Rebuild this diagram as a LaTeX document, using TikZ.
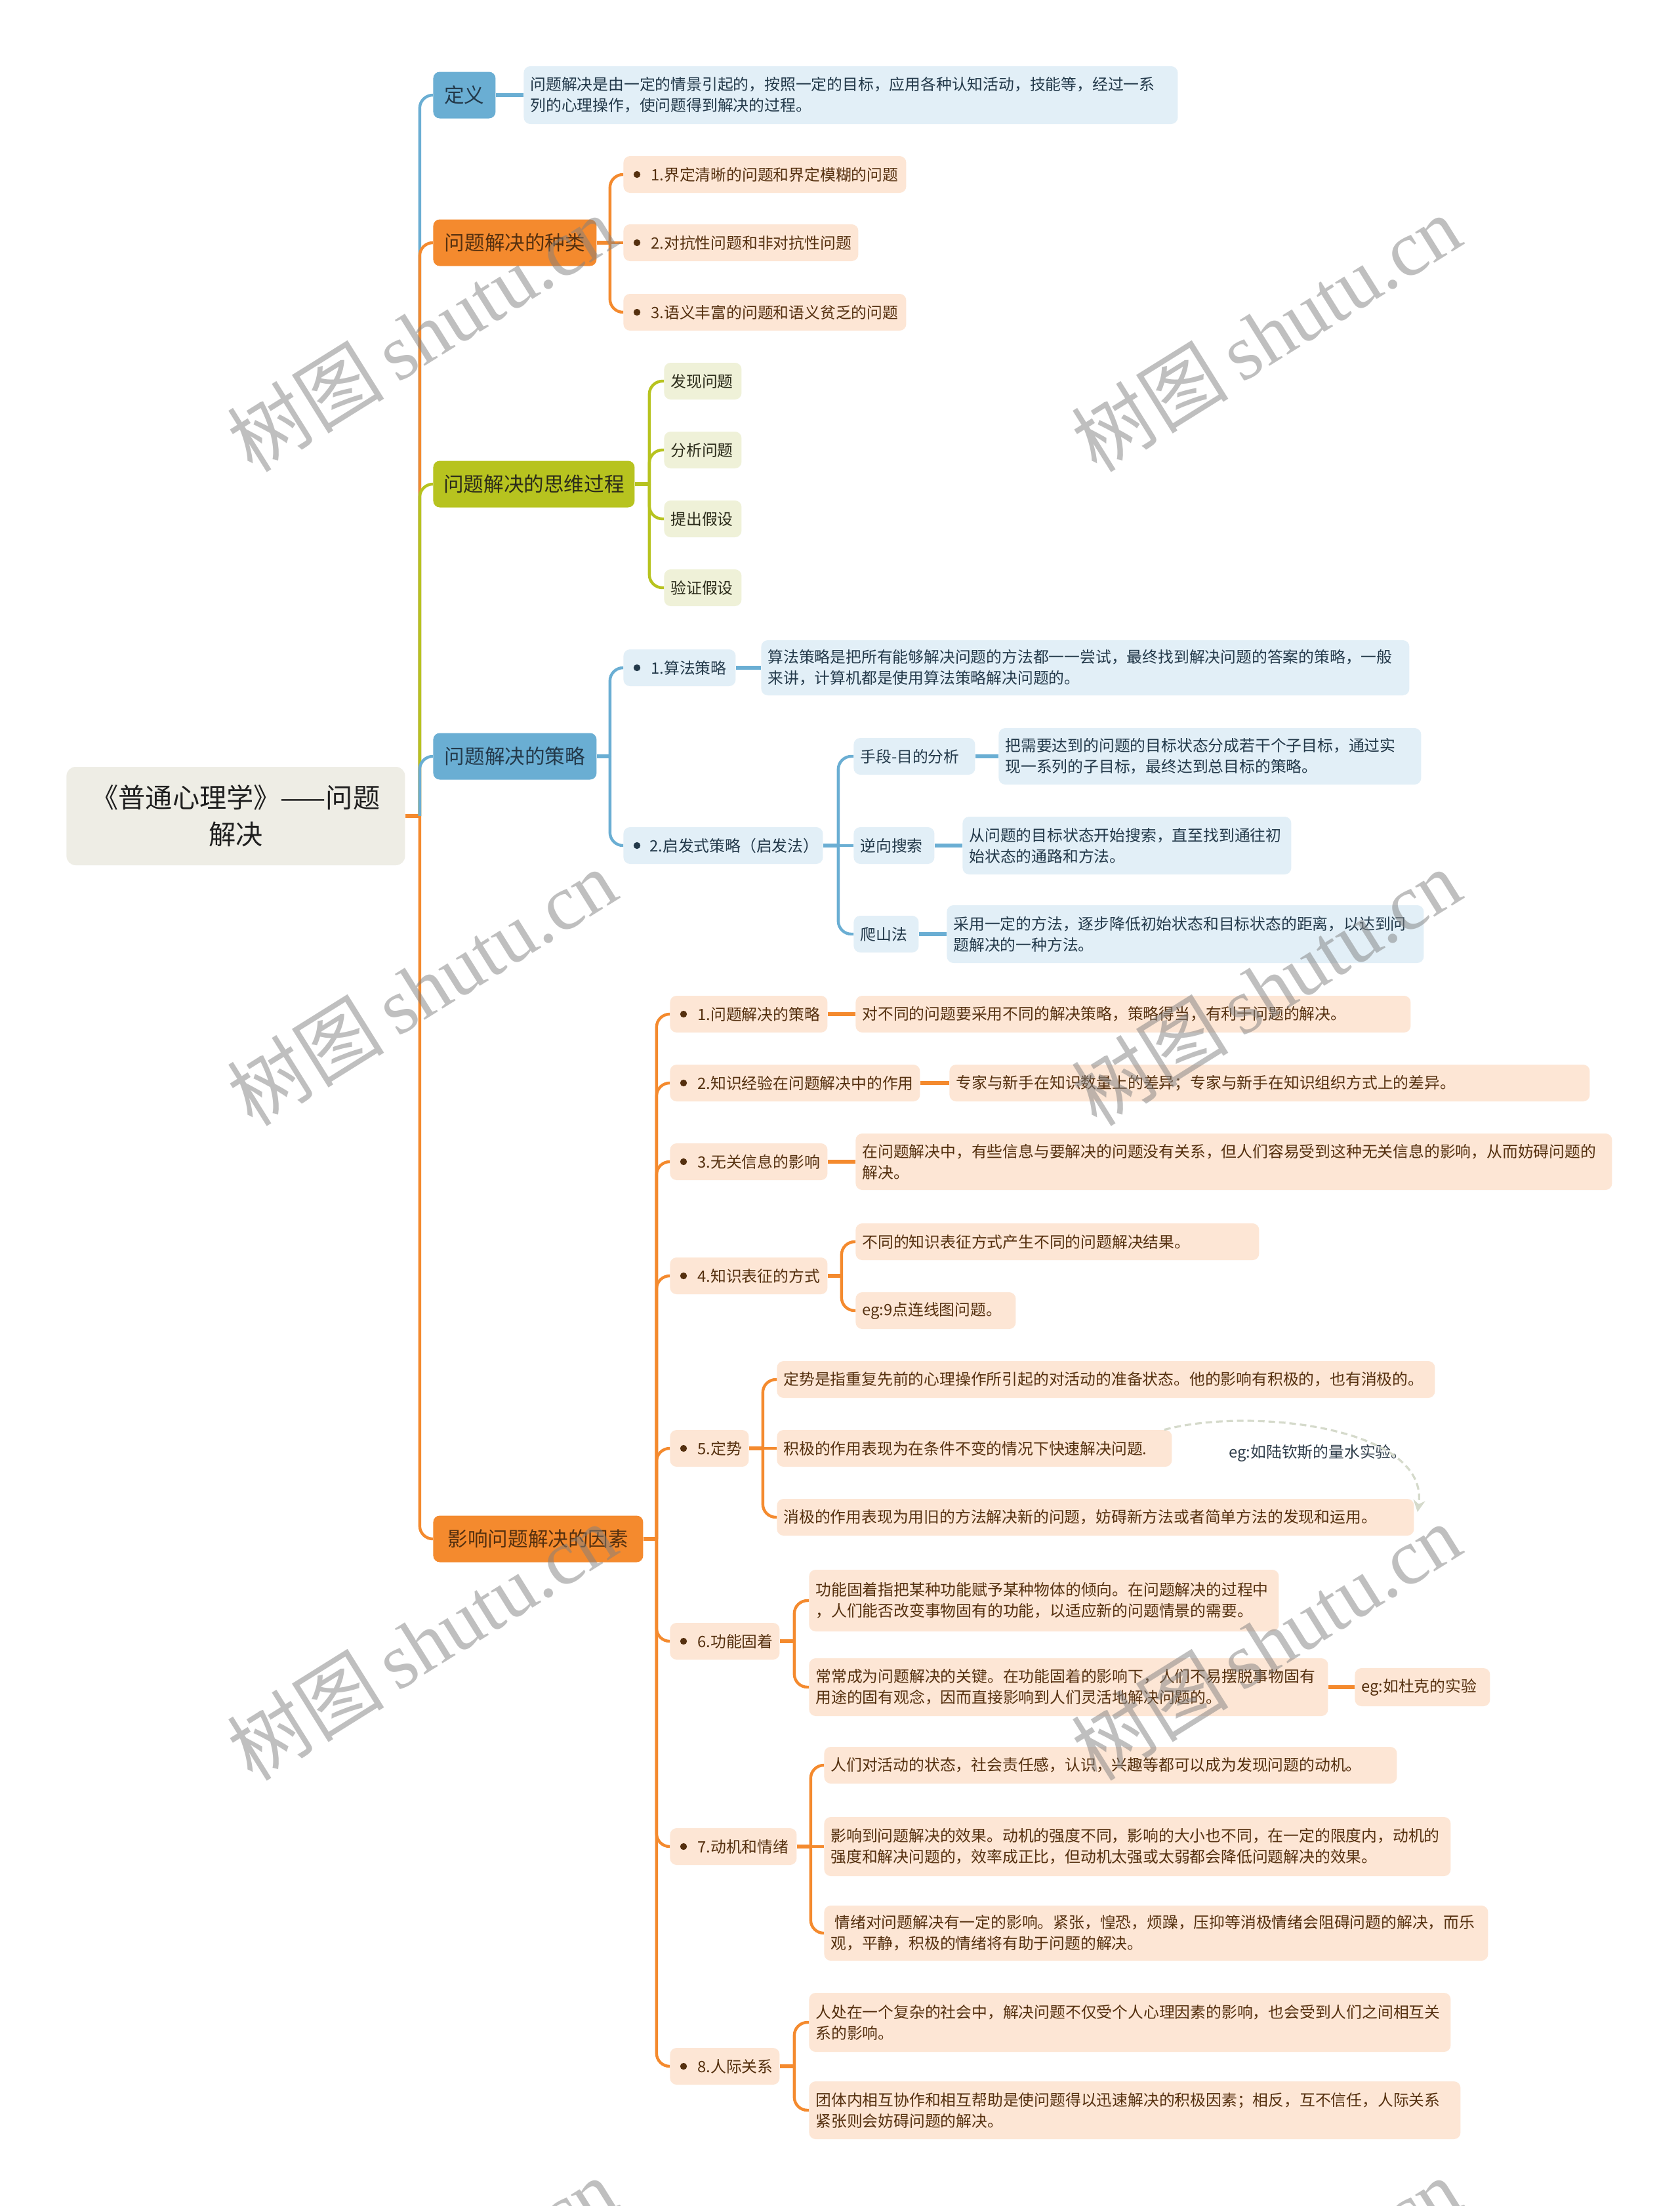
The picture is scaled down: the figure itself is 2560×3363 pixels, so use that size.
\documentclass[tikz,border=0pt]{standalone}
\usepackage{fontspec}
\setmainfont{Noto Sans CJK SC}
\newfontfamily\wmlat{Liberation Serif}
\usetikzlibrary{calc,arrows.meta}

\definecolor{cB}{HTML}{6AAED3}
\definecolor{cBl}{HTML}{E2EFF7}
\definecolor{cBt}{HTML}{23394A}
\definecolor{cO}{HTML}{F48A2E}
\definecolor{cOl}{HTML}{FDE6D5}
\definecolor{cOt}{HTML}{55300F}
\definecolor{cG}{HTML}{B7C31F}
\definecolor{cGl}{HTML}{EFF1D8}
\definecolor{cGt}{HTML}{2B2B1A}
\definecolor{cR}{HTML}{EEEDE5}
\definecolor{cRel}{HTML}{D5DACB}
\definecolor{cLab}{HTML}{2F3D4A}

\newcommand\fsS{\fontsize{11.9pt}{16pt}\selectfont}
\newcommand\fsM{\fontsize{15.3pt}{19pt}\selectfont}
\newcommand\fsR{\fontsize{20.6pt}{28pt}\selectfont}

\tikzset{
  bx/.style={anchor=west, rounded corners=5pt, inner xsep=5pt, inner ysep=2pt,
             align=left, font=\fsS, minimum height=28pt},
  tw/.code={\pgfmathsetmacro\twv{#1*0.5-10}\edef\twtmp{\noexpand\tikzset{text width=\twv pt}}\twtmp},
  ht/.style={minimum height={#1*0.5pt}},
  lb/.style={bx, fill=cBl, text=cBt},
  lo/.style={bx, fill=cOl, text=cOt},
  lg/.style={bx, fill=cGl, text=cGt},
  mainnode/.style={anchor=west, rounded corners=5pt, font=\fsM, minimum height=35.5pt,
                   align=center, inner xsep=2pt},
  mb/.style={mainnode, fill=cB, text=cBt},
  mo/.style={mainnode, fill=cO, text=cOt},
  mg/.style={mainnode, fill=cG, text=cGt},
  rootnode/.style={anchor=west, rounded corners=7pt, font=\fsR, fill=cR, text=black!88,
                   align=center},
  lnB/.style={draw=cB, line width=2.2pt},
  lnO/.style={draw=cO, line width=2.2pt},
  lnG/.style={draw=cG, line width=2.2pt},
  stub/.style={line width=3pt},
  rc/.style={rounded corners=10pt},
  rel/.style={draw=cRel, line width=1.6pt, dash pattern=on 5pt off 3pt,
              -{Stealth[length=9pt,width=9pt]}},
  wm/.style={rotate=32, text=black!50, text opacity=0.5, font=\fontsize{60pt}{60pt}\selectfont}
}

% fork: style, parent, dx, curved children
\newcommand\fork[4]{%
  \draw[#1, stub] (#2.east) -- ++(#3,0) coordinate (#2-j);
  \foreach \c in {#4}{\draw[#1, rc] (#2-j) |- (\c.west);}%
}
\newcommand\forkS[3]{\draw[#1] (#2-j) -- (#3.west);}
\newcommand\lnk[3]{\draw[#1, stub] (#2.east) -- (#3.west);}

\begin{document}
\begin{tikzpicture}[x=0.5pt,y=-0.5pt]
\fill[white] (0,0) rectangle (2560,3363);
\useasboundingbox (0,0) rectangle (2560,3363);

% ---------- root and main topics ----------
\node[rootnode, minimum width=258pt, minimum height=75pt] (root) at (101,1244) {《普通心理学》——问题\\解决};

\node[mb, minimum width=47.5pt]  (def)   at (660,145)  {定义};
\node[mo, minimum width=124.5pt] (kind)  at (660,370)  {问题解决的种类};
\node[mg, minimum width=153.5pt] (think) at (660,738)  {问题解决的思维过程};
\node[mb, minimum width=124.5pt] (strat) at (660,1153) {问题解决的策略};
\node[mo, minimum width=160pt]   (infl)  at (660,2346) {影响问题解决的因素};

% ---------- 定义 ----------
\node[lb, tw=997, ht=88] (defd) at (798,145) {问题解决是由一定的情景引起的，按照一定的目标，应用各种认知活动，技能等，经过一系\\列的心理操作，使问题得到解决的过程。};

% ---------- 种类 ----------
\node[lo, tw=431] (k1) at (950,266) {\hspace*{16pt}1.界定清晰的问题和界定模糊的问题};
\node[lo, tw=358] (k2) at (950,370) {\hspace*{16pt}2.对抗性问题和非对抗性问题};
\node[lo, tw=431] (k3) at (950,476) {\hspace*{16pt}3.语义丰富的问题和语义贫乏的问题};

% ---------- 思维过程 ----------
\node[lg, tw=118] (t1) at (1012,581) {发现问题};
\node[lg, tw=118] (t2) at (1012,686) {分析问题};
\node[lg, tw=118] (t3) at (1012,791) {提出假设};
\node[lg, tw=118] (t4) at (1012,896) {验证假设};

% ---------- 策略 ----------
\node[lb, tw=171] (s1) at (950,1018) {\hspace*{16pt}1.算法策略};
\node[lb, tw=988, ht=84] (s1d) at (1160,1018) {算法策略是把所有能够解决问题的方法都一一尝试，最终找到解决问题的答案的策略，一般\\来讲，计算机都是使用算法策略解决问题的。};
\node[lb, tw=304] (s2) at (950,1289) {\hspace*{15pt}2.启发式策略（启发法）};
\node[lb, tw=185] (s2a) at (1301,1153) {手段-目的分析};
\node[lb, tw=644, ht=86] (s2ad) at (1522,1153) {把需要达到的问题的目标状态分成若干个子目标，通过实\\现一系列的子目标，最终达到总目标的策略。};
\node[lb, tw=123] (s2b) at (1301,1289) {逆向搜索};
\node[lb, tw=501, ht=88] (s2bd) at (1467,1289) {从问题的目标状态开始搜索，直至找到通往初\\始状态的通路和方法。};
\node[lb, tw=99] (s2c) at (1301,1424) {爬山法};
\node[lb, tw=727, ht=88] (s2cd) at (1443,1424) {采用一定的方法，逐步降低初始状态和目标状态的距离，以达到问\\题解决的一种方法。};

% ---------- 影响因素 ----------
\node[lo, tw=240] (f1) at (1021,1546) {\hspace*{16pt}1.问题解决的策略};
\node[lo, tw=846] (f1d) at (1304,1546) {对不同的问题要采用不同的解决策略，策略得当，有利于问题的解决。};
\node[lo, tw=381] (f2) at (1021,1651) {\hspace*{16pt}2.知识经验在问题解决中的作用};
\node[lo, tw=976] (f2d) at (1447,1651) {专家与新手在知识数量上的差异；专家与新手在知识组织方式上的差异。};
\node[lo, tw=240] (f3) at (1021,1771) {\hspace*{16pt}3.无关信息的影响};
\node[lo, tw=1153, ht=86] (f3d) at (1304,1771) {在问题解决中，有些信息与要解决的问题没有关系，但人们容易受到这种无关信息的影响，从而妨碍问题的\\解决。};
\node[lo, tw=240] (f4) at (1021,1945) {\hspace*{16pt}4.知识表征的方式};
\node[lo, tw=615] (f4a) at (1304,1893) {不同的知识表征方式产生不同的问题解决结果。};
\node[lo, tw=244] (f4b) at (1304,1998) {eg:9点连线图问题。};
\node[lo, tw=120] (f5) at (1021,2208) {\hspace*{16pt}5.定势};
\node[lo, tw=1003] (f5a) at (1184,2103) {定势是指重复先前的心理操作所引起的对活动的准备状态。他的影响有积极的，也有消极的。};
\node[lo, tw=602] (f5b) at (1184,2208) {积极的作用表现为在条件不变的情况下快速解决问题.};
\node[lo, tw=971] (f5c) at (1184,2313) {消极的作用表现为用旧的方法解决新的问题，妨碍新方法或者简单方法的发现和运用。};
\node[font=\fsS, text=cLab] (f5lab) at (2009,2215) {eg:如陆钦斯的量水实验。};
\node[lo, tw=167] (f6) at (1021,2502) {\hspace*{16pt}6.功能固着};
\node[lo, tw=716, ht=94] (f6a) at (1233,2440) {功能固着指把某种功能赋予某种物体的倾向。在问题解决的过程中\\，人们能否改变事物固有的功能，以适应新的问题情景的需要。};
\node[lo, tw=791, ht=88] (f6b) at (1233,2572) {常常成为问题解决的关键。在功能固着的影响下，人们不易摆脱事物固有\\用途的固有观念，因而直接影响到人们灵活地解决问题的。};
\node[lo, tw=206, ht=58] (f6e) at (2065,2572) {eg:如杜克的实验};
\node[lo, tw=193] (f7) at (1021,2815) {\hspace*{16pt}7.动机和情绪};
\node[lo, tw=873] (f7a) at (1256,2691) {人们对活动的状态，社会责任感，认识，兴趣等都可以成为发现问题的动机。};
\node[lo, tw=955, ht=90] (f7b) at (1256,2815) {影响到问题解决的效果。动机的强度不同，影响的大小也不同，在一定的限度内，动机的\\强度和解决问题的，效率成正比，但动机太强或太弱都会降低问题解决的效果。};
\node[lo, tw=1012, ht=84] (f7c) at (1256,2947) {\hspace*{3pt}情绪对问题解决有一定的影响。紧张，惶恐，烦躁，压抑等消极情绪会阻碍问题的解决，而乐\\观，平静，积极的情绪将有助于问题的解决。};
\node[lo, tw=167] (f8) at (1021,3150) {\hspace*{16pt}8.人际关系};
\node[lo, tw=978, ht=90] (f8a) at (1233,3083) {人处在一个复杂的社会中，解决问题不仅受个人心理因素的影响，也会受到人们之间相互关\\系的影响。};
\node[lo, tw=993, ht=88] (f8b) at (1233,3217) {团体内相互协作和相互帮助是使问题得以迅速解决的积极因素；相反，互不信任，人际关系\\紧张则会妨碍问题的解决。};

% ---------- bullets ----------
\foreach \n in {k1,k2,k3,f1,f2,f3,f4,f5,f6,f7,f8}
  \fill[cOt] ($(\n.west)+(21,0)$) circle[radius=2.6pt];
\foreach \n in {s1,s2}
  \fill[cBt] ($(\n.west)+(21,0)$) circle[radius=2.6pt];

% ---------- connectors: trunk ----------
\draw[lnO, stub] (root.east) -- ++(22,0) coordinate (root-j);
\draw[lnB, rc] (root-j) |- (def.west);
\draw[lnO, rc] (root-j) |- (kind.west);
\draw[lnG, rc] (root-j) |- (think.west);
\draw[lnB, rc] (root-j) |- (strat.west);
\draw[lnO, rc] (root-j) |- (infl.west);

% ---------- connectors: branches ----------
\lnk{lnB}{def}{defd}

\fork{lnO}{kind}{20}{k1,k3}
\forkS{lnO}{kind}{k2}

\fork{lnG}{think}{22}{t1,t2,t3,t4}

\fork{lnB}{strat}{20}{s1,s2}
\lnk{lnB}{s1}{s1d}
\fork{lnB}{s2}{23}{s2a,s2c}
\forkS{lnB}{s2}{s2b}
\lnk{lnB}{s2a}{s2ad}
\lnk{lnB}{s2b}{s2bd}
\lnk{lnB}{s2c}{s2cd}

\fork{lnO}{infl}{20}{f1,f2,f3,f4,f5,f6,f7,f8}
\lnk{lnO}{f1}{f1d}
\lnk{lnO}{f2}{f2d}
\lnk{lnO}{f3}{f3d}
\fork{lnO}{f4}{21}{f4a,f4b}
\fork{lnO}{f5}{21}{f5a,f5c}
\forkS{lnO}{f5}{f5b}
\fork{lnO}{f6}{22}{f6a,f6b}
\lnk{lnO}{f6b}{f6e}
\fork{lnO}{f7}{21}{f7a,f7c}
\forkS{lnO}{f7}{f7b}
\fork{lnO}{f8}{22}{f8a,f8b}

% relationship (dashed curved arrow)
\draw[rel] ($(f5b.north east)+(-12,0)$) .. controls +(130,-35) and +(20,-130) .. ($(f5c.east)+(5,-8)$);

% ---------- watermark ----------
\begin{scope}
\clip (0,0) rectangle (2560,3363);
\foreach \wx in {643,1930}
  \foreach \wy in {508,1505,2503,3500}
    \node[wm] at (\wx,\wy) {树图\,{\wmlat shutu.cn}};
\end{scope}
\end{tikzpicture}
\end{document}
